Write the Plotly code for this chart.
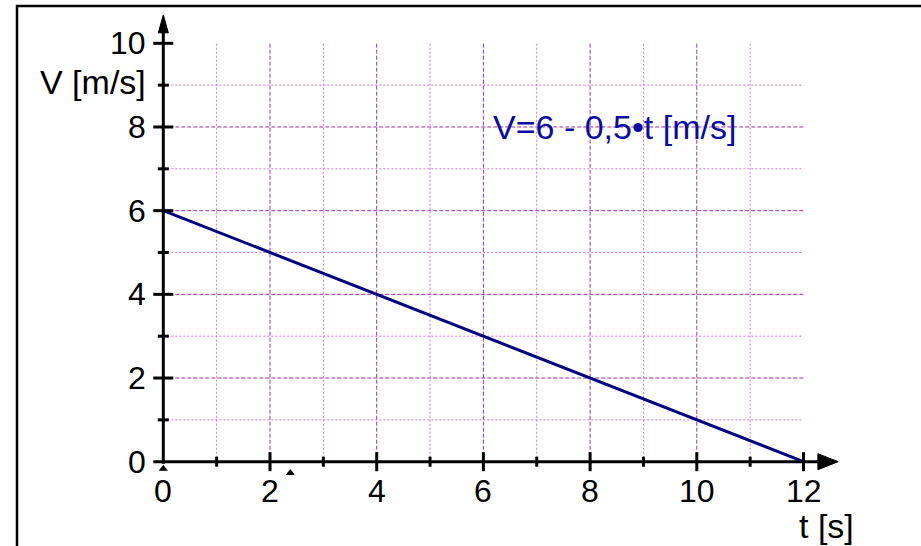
import plotly.graph_objects as go

# ---- data ----
t_values = [0, 12]
v_values = [6, 0]
x_ticks = [1, 2, 3, 4, 5, 6, 7, 8, 9, 10, 11, 12]
x_tick_labels = ["0", "2", "4", "6", "8", "10", "12"]
x_label_pos = [0, 2, 4, 6, 8, 10, 12]
y_ticks = [1, 2, 3, 4, 5, 6, 7, 8, 9, 10]
y_tick_labels = ["0", "2", "4", "6", "8", "10"]
y_label_pos = [0, 2, 4, 6, 8, 10]
grid_x = [1, 2, 3, 4, 5, 6, 7, 8, 9, 10, 11]
grid_y = [1, 2, 3, 4, 5, 6, 7, 8, 9]
equation = "V=6 - 0,5•t [m/s]"
artifact_x = [0.0, 2.38]
artifact_y = [-0.17, -0.27]

W, H = 921, 546
PX_X = 53.35   # px per unit t
PX_Y = 41.84   # px per unit V
X0_PX, Y0_PX = 163.3, 461.7
xr = [-X0_PX / PX_X, (W - X0_PX) / PX_X]
yr = [-(H - Y0_PX) / PX_Y, Y0_PX / PX_Y]

def dx(px):
    return px / PX_X

def dy(px):
    return px / PX_Y

FONT = "Liberation Sans, Arial, sans-serif"
fig = go.Figure()
shapes = []
MAJOR = "#993399"
MINOR = "#CC77CC"

# grid
for gx in grid_x:
    major = gx % 2 == 0
    shapes.append(dict(type="line", xref="x", yref="y", x0=gx, x1=gx, y0=0, y1=10,
                       line=dict(color=MAJOR if major else MINOR, width=1,
                                 dash="4px,2px" if major else "2px,2px"), layer="below"))
for gy in grid_y:
    major = gy % 2 == 0
    shapes.append(dict(type="line", xref="x", yref="y", x0=0, x1=12, y0=gy, y1=gy,
                       line=dict(color=MAJOR if major else MINOR, width=1,
                                 dash="4px,2px" if major else "2px,2px"), layer="below"))

# axes lines
shapes.append(dict(type="line", xref="x", yref="y", x0=-dx(10), x1=12.3, y0=0, y1=0,
                   line=dict(color="black", width=3)))
shapes.append(dict(type="line", xref="x", yref="y", x0=0, x1=0, y0=-dy(2), y1=10.3,
                   line=dict(color="black", width=3)))
# arrowheads
shapes.append(dict(type="path", xref="x", yref="y",
                   path=f"M {12.27},{dy(8)} L {12.65},0 L {12.27},{-dy(8)} Z",
                   fillcolor="black", line=dict(color="black", width=1)))
shapes.append(dict(type="path", xref="x", yref="y",
                   path=f"M {-dx(5)},{10.25} L 0,{10.68} L {dx(5)},{10.25} Z",
                   fillcolor="black", line=dict(color="black", width=1)))

# ticks
for tx in x_ticks:
    h = dy(9.5) if tx % 2 == 0 else dy(5)
    shapes.append(dict(type="line", xref="x", yref="y", x0=tx, x1=tx, y0=-h, y1=h,
                       line=dict(color="black", width=3)))
for ty in y_ticks:
    w = dx(10) if ty % 2 == 0 else dx(5.5)
    shapes.append(dict(type="line", xref="x", yref="y", x0=-w, x1=w, y0=ty, y1=ty,
                       line=dict(color="black", width=3)))

# frame
shapes.append(dict(type="rect", xref="paper", yref="paper", x0=17 / W, x1=1.05,
                   y0=-0.05, y1=1 - 6 / H, line=dict(color="black", width=2.5)))

# data line
fig.add_trace(go.Scatter(x=t_values, y=v_values, mode="lines",
                         line=dict(color="#000080", width=3), hoverinfo="skip"))
# small artifacts
fig.add_trace(go.Scatter(x=artifact_x, y=artifact_y, mode="markers",
                         marker=dict(symbol="triangle-up", size=8, color="black"),
                         hoverinfo="skip"))

ann = []
for lab, p in zip(x_tick_labels, x_label_pos):
    ann.append(dict(x=p, y=-dy(29.5), xref="x", yref="y", text=lab, showarrow=False,
                    xanchor="center", yanchor="middle", font=dict(size=32, color="black", family=FONT)))
for lab, p in zip(y_tick_labels, y_label_pos):
    ann.append(dict(x=-dx(15), y=p, xref="x", yref="y", text=lab, showarrow=False,
                    xanchor="right", yanchor="middle", font=dict(size=32, color="black", family=FONT)))
ann.append(dict(x=-dx(15), y=dy(Y0_PX - 82), xref="x", yref="y", text="V [m/s]", showarrow=False,
                xanchor="right", yanchor="middle", font=dict(size=34, color="black", family=FONT)))
ann.append(dict(x=dx(856 - X0_PX), y=-dy(526 - Y0_PX), xref="x", yref="y", text="t [s]", showarrow=False,
                xanchor="right", yanchor="middle", font=dict(size=34, color="black", family=FONT)))
ann.append(dict(x=dx(614 - X0_PX), y=8, xref="x", yref="y", text=equation, showarrow=False,
                xanchor="center", yanchor="middle", font=dict(size=34, color="#0A0AA0", family=FONT)))

fig.update_layout(
    width=W, height=H, autosize=False,
    margin=dict(l=0, r=0, t=0, b=0, pad=0),
    paper_bgcolor="white", plot_bgcolor="white",
    showlegend=False,
    xaxis=dict(range=xr, visible=False, fixedrange=True),
    yaxis=dict(range=yr, visible=False, fixedrange=True),
    shapes=shapes, annotations=ann,
)
fig.write_html("out.html")
